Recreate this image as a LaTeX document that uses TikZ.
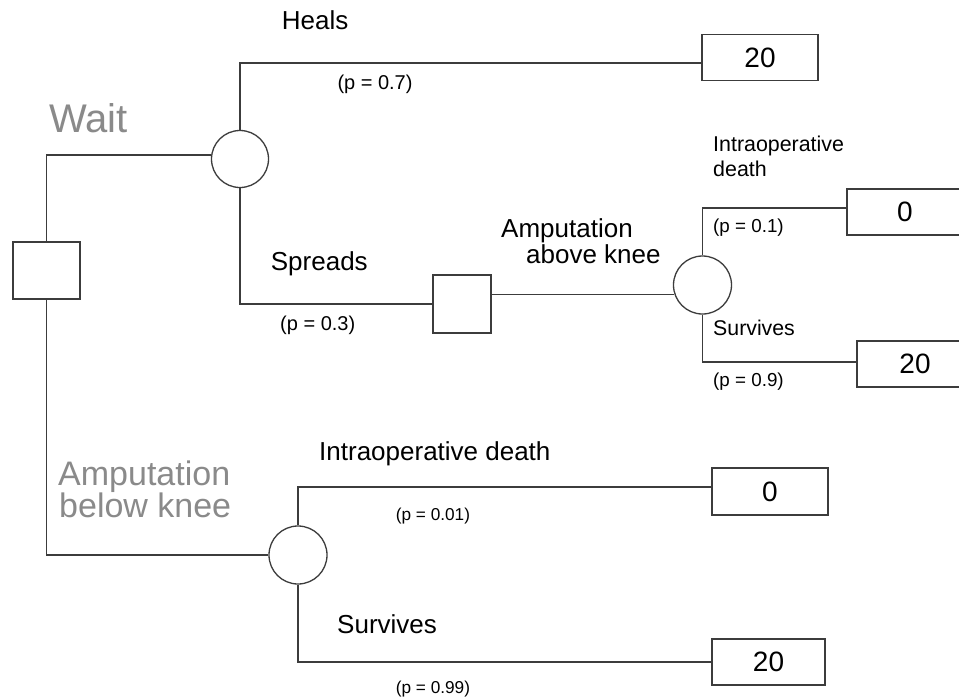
\documentclass[tikz,border=0pt]{standalone}
\usepackage{fontspec}
\setmainfont{Liberation Sans}
\usetikzlibrary{calc}
\newcommand\txtsize[1]{\fontsize{#1}{#1}\selectfont}
\definecolor{linegray}{HTML}{3C3C3C}
\definecolor{optgray}{HTML}{8A8A8A}

\begin{document}
\begin{tikzpicture}[x=1pt,y=-1pt,
  link/.style={draw=linegray,line width=1.3pt},
  chance/.style={circle,draw=linegray,line width=1.3pt,minimum size=57pt,inner sep=0pt,fill=white},
  choice/.style={rectangle,draw=linegray,line width=1.3pt,inner sep=0pt,fill=white},
  payoff/.style={rectangle,draw=linegray,line width=1.3pt,minimum width=116pt,minimum height=46pt,inner sep=0pt,font=\txtsize{28}},
  lbl/.style={anchor=base west,inner sep=0pt,text=black},
  optlbl/.style={anchor=base west,inner sep=0pt,text=optgray}]

\useasboundingbox (0,0) rectangle (959,699);
\clip (0,0) rectangle (959,699);
\fill[white] (0,0) rectangle (959,699);

% decision and chance nodes
\node[choice,minimum width=67pt,minimum height=57pt] (D1) at (46.5,270.5) {};
\node[chance] (C1) at (240,159) {};
\node[choice,minimum width=58pt,minimum height=58pt] (D2) at (462,304) {};
\node[chance,minimum size=58pt] (C2) at (702.5,285) {};
\node[chance,minimum size=58pt] (C3) at (298,555) {};

% outcome values
\node[payoff] (B1) at (760,57.5) {20};
\node[payoff] (B2) at (905,212) {0};
\node[payoff] (B3) at (915,364) {20};
\node[payoff,minimum width=116pt,minimum height=47pt] (B4) at (770,491.5) {0};
\node[payoff,minimum width=113pt] (B5) at (768.5,662) {20};

% branches
\draw[link] (C1.172) -| (D1.north);
\draw[link] (C1.north) |- ($(B1.west)+(0,5.5)$);
\draw[link] (C1.south) |- (D2.west);
\draw[link] (C2.198) -- (C2.198 -| D2.east);
\draw[link] (C2.north) |- ($(B2.west)+(0,-4)$);
\draw[link] (C2.south) |- ($(B3.west)+(0,-2)$);
\draw[link] (D1.south) |- (C3.west);
\draw[link] (C3.north) |- ($(B4.west)+(0,-4.5)$);
\draw[link] (C3.south) |- (B5.west);

% option labels
\node[optlbl,font=\txtsize{40}] (tWait) at (49,132.5) {Wait};
\node[optlbl,font=\txtsize{34}] (tAmpB1) at (58,485) {Amputation};
\node[optlbl,font=\txtsize{34}] (tAmpB2) at (59,517.7) {below knee};

% branch labels
\node[lbl,font=\txtsize{26}] (tHeals) at (281.7,29.3) {Heals};
\node[lbl,font=\txtsize{20}] (pHeals) at (337.3,89.3) {(p = 0.7)};
\node[lbl,font=\txtsize{26}] (tSpreads) at (270.7,270.5) {Spreads};
\node[lbl,font=\txtsize{20}] (pSpreads) at (280,330) {(p = 0.3)};
\node[lbl,font=\txtsize{26}] (tAmpA1) at (501,237.7) {Amputation};
\node[lbl,font=\txtsize{26}] (tAmpA2) at (526,263.3) {above knee};
\node[lbl,font=\txtsize{21.4}] (tDeathA1) at (713,151) {Intraoperative};
\node[lbl,font=\txtsize{21.4}] (tDeathA2) at (713,176.7) {death};
\node[lbl,font=\txtsize{18.8}] (pDeathA) at (713,232.3) {(p = 0.1)};
\node[lbl,font=\txtsize{21.3}] (tSurvA) at (713,335) {Survives};
\node[lbl,font=\txtsize{18.8}] (pSurvA) at (713,386.7) {(p = 0.9)};
\node[lbl,font=\txtsize{26}] (tDeathB) at (319,460) {Intraoperative death};
\node[lbl,font=\txtsize{17.2}] (pDeathB) at (395.7,520.7) {(p = 0.01)};
\node[lbl,font=\txtsize{26}] (tSurvB) at (337,633.3) {Survives};
\node[lbl,font=\txtsize{17.2}] (pSurvB) at (395.7,693.3) {(p = 0.99)};
\end{tikzpicture}
\end{document}
